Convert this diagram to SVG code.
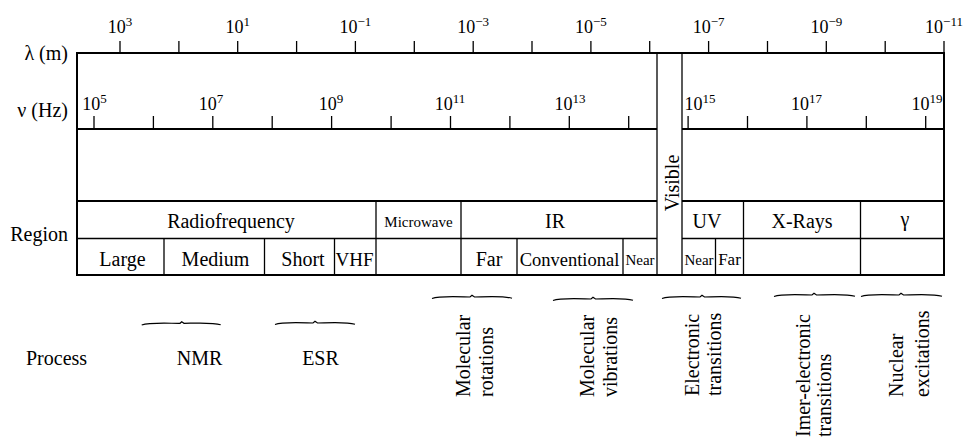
<svg xmlns="http://www.w3.org/2000/svg" width="967" height="439" viewBox="0 0 967 439" font-family="'Liberation Serif', 'DejaVu Serif', serif">
<style>
text{font-family:'Liberation Serif','DejaVu Serif',serif;fill:#000}
.ax{font-size:18px;text-anchor:middle}
.axs{font-size:18px;text-anchor:start}
.sup{font-size:13px}
.lb{font-size:20px}
.c{font-size:20px;text-anchor:middle}
.rot{font-size:20px}
.thick{stroke:#000;stroke-width:2;fill:none}
.thin{stroke:#000;stroke-width:1.3;fill:none}
.tick{stroke:#000;stroke-width:1.3}
.brace{stroke:#000;stroke-width:1.2;fill:none}
</style>

<g id="lambda-axis">
  <text class="lb" x="68" y="60" text-anchor="end">λ (m)</text>
  <g class="tick">
    <line x1="120" y1="41" x2="120" y2="53"/><line x1="178.9" y1="41" x2="178.9" y2="53"/>
    <line x1="237.7" y1="41" x2="237.7" y2="53"/><line x1="296.6" y1="41" x2="296.6" y2="53"/>
    <line x1="355.4" y1="41" x2="355.4" y2="53"/><line x1="414.3" y1="41" x2="414.3" y2="53"/>
    <line x1="473.2" y1="41" x2="473.2" y2="53"/><line x1="532" y1="41" x2="532" y2="53"/>
    <line x1="590.9" y1="41" x2="590.9" y2="53"/><line x1="649.7" y1="41" x2="649.7" y2="53"/>
    <line x1="708.6" y1="41" x2="708.6" y2="53"/><line x1="767.5" y1="41" x2="767.5" y2="53"/>
    <line x1="826.3" y1="41" x2="826.3" y2="53"/><line x1="885.2" y1="41" x2="885.2" y2="53"/>
    <line x1="944" y1="41" x2="944" y2="53"/>
  </g>
  <text class="ax" x="120" y="33">10<tspan class="sup" dy="-7">3</tspan></text>
  <text class="ax" x="237.7" y="33">10<tspan class="sup" dy="-7">1</tspan></text>
  <text class="ax" x="355.4" y="33">10<tspan class="sup" dy="-7">−1</tspan></text>
  <text class="ax" x="473.2" y="33">10<tspan class="sup" dy="-7">−3</tspan></text>
  <text class="ax" x="590.9" y="33">10<tspan class="sup" dy="-7">−5</tspan></text>
  <text class="ax" x="708.6" y="33">10<tspan class="sup" dy="-7">−7</tspan></text>
  <text class="ax" x="826.3" y="33">10<tspan class="sup" dy="-7">−9</tspan></text>
  <text class="ax" x="944" y="33">10<tspan class="sup" dy="-7">−11</tspan></text>
</g>

<g id="nu-axis">
  <text class="lb" x="68" y="117" text-anchor="end">ν (Hz)</text>
  <g class="tick">
    <line x1="94" y1="116" x2="94" y2="129"/><line x1="153.4" y1="116" x2="153.4" y2="129"/>
    <line x1="212.8" y1="116" x2="212.8" y2="129"/><line x1="272.2" y1="116" x2="272.2" y2="129"/>
    <line x1="331.6" y1="116" x2="331.6" y2="129"/><line x1="391.1" y1="116" x2="391.1" y2="129"/>
    <line x1="450.5" y1="116" x2="450.5" y2="129"/><line x1="509.9" y1="116" x2="509.9" y2="129"/>
    <line x1="569.3" y1="116" x2="569.3" y2="129"/><line x1="628.7" y1="116" x2="628.7" y2="129"/>
    <line x1="688.1" y1="116" x2="688.1" y2="129"/><line x1="747.5" y1="116" x2="747.5" y2="129"/>
    <line x1="806.9" y1="116" x2="806.9" y2="129"/><line x1="866.3" y1="116" x2="866.3" y2="129"/>
    <line x1="925.7" y1="116" x2="925.7" y2="129"/>
  </g>
  <text class="ax" x="94.5" y="110">10<tspan class="sup" dy="-7">5</tspan></text>
  <text class="ax" x="211" y="110">10<tspan class="sup" dy="-7">7</tspan></text>
  <text class="ax" x="331" y="110">10<tspan class="sup" dy="-7">9</tspan></text>
  <text class="ax" x="450" y="110">10<tspan class="sup" dy="-7">11</tspan></text>
  <text class="ax" x="570" y="110">10<tspan class="sup" dy="-7">13</tspan></text>
  <text class="axs" x="684.5" y="110">10<tspan class="sup" dy="-7">15</tspan></text>
  <text class="ax" x="806.5" y="110">10<tspan class="sup" dy="-7">17</tspan></text>
  <text class="ax" x="927" y="110">10<tspan class="sup" dy="-7">19</tspan></text>
</g>

<g id="frame">
  <rect class="thick" x="77" y="53" width="867" height="222"/>
  <line class="thick" x1="77" y1="129" x2="657" y2="129"/>
  <line class="thick" x1="682" y1="129" x2="944" y2="129"/>
  <line class="thick" x1="77" y1="201" x2="657" y2="201"/>
  <line class="thick" x1="682" y1="201" x2="944" y2="201"/>
  <line class="thin" x1="77" y1="238.5" x2="657" y2="238.5"/>
  <line class="thin" x1="682" y1="238.5" x2="944" y2="238.5"/>
  <line class="thin" x1="657" y1="53" x2="657" y2="275"/>
  <line class="thin" x1="682" y1="53" x2="682" y2="275"/>
</g>

<g id="visible">
  <text class="rot" transform="translate(678.5,183) rotate(-90)" text-anchor="middle">Visible</text>
</g>

<g id="region-label">
  <text class="lb" x="68" y="241" text-anchor="end">Region</text>
</g>

<g id="regions-row1">
  <g class="thin">
    <line x1="376" y1="201" x2="376" y2="275"/>
    <line x1="461" y1="201" x2="461" y2="275"/>
    <line x1="743.5" y1="201" x2="743.5" y2="275"/>
    <line x1="860.5" y1="201" x2="860.5" y2="275"/>
  </g>
  <text class="c" x="231" y="228">Radiofrequency</text>
  <text class="c" x="418.5" y="226.5" style="font-size:15px">Microwave</text>
  <text class="c" x="555" y="228">IR</text>
  <text class="c" x="707" y="228">UV</text>
  <text class="c" x="802" y="228">X-Rays</text>
  <text class="c" x="905" y="226">γ</text>
</g>

<g id="regions-row2">
  <g class="thin">
    <line x1="164" y1="238.5" x2="164" y2="275"/>
    <line x1="264.5" y1="238.5" x2="264.5" y2="275"/>
    <line x1="334.5" y1="238.5" x2="334.5" y2="275"/>
    <line x1="517" y1="238.5" x2="517" y2="275"/>
    <line x1="623" y1="238.5" x2="623" y2="275"/>
    <line x1="715.5" y1="238.5" x2="715.5" y2="275"/>
  </g>
  <text class="c" x="122.5" y="266">Large</text>
  <text class="c" x="215.5" y="266">Medium</text>
  <text class="c" x="303" y="266">Short</text>
  <text class="c" x="354.5" y="266" style="font-size:19px">VHF</text>
  <text class="c" x="489" y="266">Far</text>
  <text class="c" x="569.5" y="266" style="font-size:18.5px">Conventional</text>
  <text class="c" x="640" y="265" style="font-size:15px">Near</text>
  <text class="c" x="699" y="265" style="font-size:15px">Near</text>
  <text class="c" x="729.5" y="265" style="font-size:17px">Far</text>
</g>

<g id="process-label">
  <text class="lb" x="26" y="365">Process</text>
</g>

<g id="nmr">
  <path class="brace" d="M141.7,325 C150,322 172,323.5 180,323.3 L181.7,321.8 L184,323.3 C192,323.3 212,322 220.7,324.7"/>
  <text class="c" x="199.5" y="365">NMR</text>
</g>
<g id="esr">
  <path class="brace" d="M275,324.5 C283,321.5 306,323 313,323 L315,321.3 L317.5,323 C325,323 346,321.5 355,324.3"/>
  <text class="c" x="320.5" y="365">ESR</text>
</g>
<g id="molecular-rotations">
  <path class="brace" d="M432,298.5 C440,295.5 463,297 470,297 L472,295.3 L474.5,297 C482,297 503,295.5 512,298.3"/>
  <text class="rot" transform="translate(470,397) rotate(-90)">Molecular</text>
  <text class="rot" transform="translate(492.5,397) rotate(-90)">rotations</text>
</g>
<g id="molecular-vibrations">
  <path class="brace" d="M553,300.5 C561,297.5 584,299 591,299 L593,297.3 L595.5,299 C603,299 624,297.5 633,300.3"/>
  <text class="rot" transform="translate(593.5,397) rotate(-90)">Molecular</text>
  <text class="rot" transform="translate(616.5,397) rotate(-90)">vibrations</text>
</g>
<g id="electronic-transitions">
  <path class="brace" d="M662,298.5 C670,295.5 693,297 700,297 L702,295.3 L704.5,297 C712,297 732,295.5 741,298.3"/>
  <text class="rot" transform="translate(698.5,396) rotate(-90)">Electronic</text>
  <text class="rot" transform="translate(721,396) rotate(-90)">transitions</text>
</g>
<g id="inner-electronic-transitions">
  <path class="brace" d="M774,296.5 C782,293.5 805,295 812,295 L814,293.3 L816.5,295 C824,295 846,293.5 855,296.3"/>
  <text class="rot" transform="translate(809.5,437) rotate(-90)">Imer-electronic</text>
  <text class="rot" transform="translate(831,437) rotate(-90)">transitions</text>
</g>
<g id="nuclear-excitations">
  <path class="brace" d="M861,296.5 C869,293.5 892,295 899,295 L901,293.3 L903.5,295 C911,295 933,293.5 942,296.3"/>
  <text class="rot" transform="translate(902.5,397) rotate(-90)">Nuclear</text>
  <text class="rot" transform="translate(928.5,397) rotate(-90)">excitations</text>
</g>
<g id="connectors"></g>
</svg>
